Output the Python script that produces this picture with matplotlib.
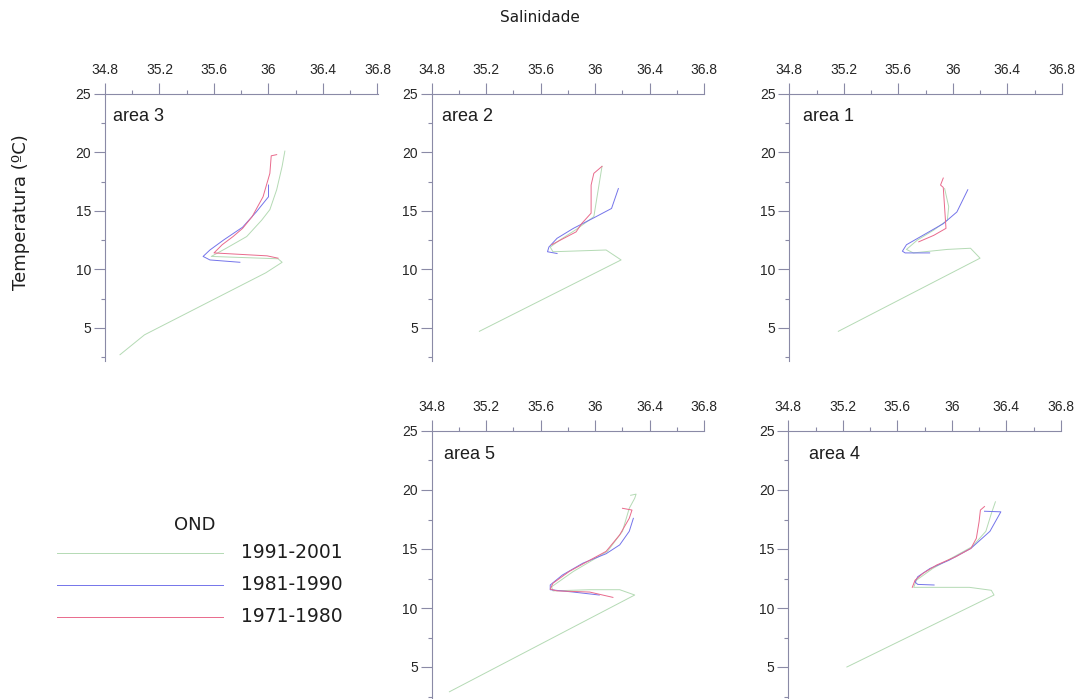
import numpy as np
import matplotlib
matplotlib.use("Agg")
import matplotlib.pyplot as plt
from matplotlib.lines import Line2D
from matplotlib.ticker import MultipleLocator

W, H = 1079, 699

periods = ["1991-2001", "1981-1990", "1971-1980"]
colors = ["#b4dab4", "#7474ea", "#e96a8c"]

# T-S profiles, salinity / temperature (ºC), one set per area
a3_sal_91 = [36.12, 36.10, 36.06, 36.01, 35.95, 35.84, 35.69, 35.58, 36.07, 36.10, 35.98, 35.09, 34.91]
a3_tem_91 = [20.1, 18.8, 16.8, 15.1, 14.2, 12.8, 11.8, 11.1, 10.9, 10.6, 9.7, 4.4, 2.7]
a3_sal_81 = [36.00, 36.00, 35.91, 35.81, 35.67, 35.57, 35.52, 35.57, 35.79]
a3_tem_81 = [17.2, 16.2, 14.9, 13.6, 12.5, 11.65, 11.1, 10.8, 10.6]
a3_sal_71 = [36.06, 36.02, 36.01, 35.96, 35.88, 35.81, 35.74, 35.66, 35.60, 35.99, 36.07]
a3_tem_71 = [19.8, 19.7, 18.2, 16.2, 14.5, 13.5, 12.8, 12.1, 11.4, 11.15, 10.95]

a2_sal_91 = [36.05, 35.99, 35.86, 35.74, 35.67, 35.69, 36.08, 36.19, 35.15]
a2_tem_91 = [18.8, 14.5, 13.4, 12.5, 11.9, 11.5, 11.65, 10.8, 4.7]
a2_sal_81 = [36.17, 36.12, 35.99, 35.84, 35.72, 35.66, 35.65, 35.72]
a2_tem_81 = [16.9, 15.2, 14.4, 13.5, 12.65, 11.9, 11.5, 11.35]
a2_sal_71 = [36.05, 35.99, 35.97, 35.97, 35.90, 35.86, 35.77, 35.68]
a2_tem_71 = [18.8, 18.2, 17.2, 14.8, 13.9, 13.2, 12.65, 12.1]

a1_sal_91 = [35.94, 35.97, 35.96, 35.86, 35.74, 35.66, 35.71, 35.96, 36.13, 36.20, 35.16]
a1_tem_91 = [16.9, 15.35, 14.2, 13.35, 12.5, 11.7, 11.4, 11.7, 11.8, 10.95, 4.7]
a1_sal_81 = [36.11, 36.03, 35.93, 35.78, 35.66, 35.63, 35.65, 35.83]
a1_tem_81 = [16.8, 14.9, 13.9, 12.9, 12.1, 11.55, 11.4, 11.4]
a1_sal_71 = [35.93, 35.91, 35.93, 35.95, 35.86, 35.75]
a1_tem_71 = [17.8, 17.2, 17.0, 13.5, 12.9, 12.35]

a5_sal_91 = [36.26, 36.30, 36.29, 36.25, 36.20, 36.09, 35.84, 35.68, 35.69, 35.96, 36.18, 36.29, 34.93]
a5_tem_91 = [19.55, 19.65, 19.3, 18.45, 16.5, 14.8, 13.1, 11.8, 11.45, 11.55, 11.55, 11.1, 2.9]
a5_sal_81 = [36.28, 36.25, 36.18, 36.08, 35.91, 35.76, 35.67, 35.67, 35.84, 36.03]
a5_tem_81 = [17.6, 16.5, 15.35, 14.6, 13.8, 12.8, 11.95, 11.55, 11.35, 11.1]
a5_sal_71 = [36.20, 36.27, 36.25, 36.18, 36.08, 35.96, 35.81, 35.69, 35.67, 35.72, 35.96, 36.13]
a5_tem_71 = [18.45, 18.3, 17.6, 16.2, 14.8, 14.05, 13.1, 12.1, 11.6, 11.45, 11.35, 10.9]

a4_sal_91 = [36.32, 36.29, 36.25, 36.15, 35.86, 35.74, 35.72, 35.93, 36.13, 36.29, 36.31, 35.23]
a4_tem_91 = [19.0, 18.0, 16.5, 15.2, 13.35, 12.35, 11.75, 11.75, 11.75, 11.5, 11.1, 5.0]
a4_sal_81 = [36.24, 36.36, 36.28, 36.14, 35.98, 35.84, 35.75, 35.73, 35.75, 35.87]
a4_tem_81 = [18.2, 18.15, 16.5, 15.05, 14.05, 13.35, 12.65, 12.2, 12.0, 11.95]
a4_sal_71 = [36.24, 36.21, 36.20, 36.18, 36.14, 36.03, 35.89, 35.79, 35.73, 35.71]
a4_tem_71 = [18.6, 18.3, 17.3, 15.9, 15.05, 14.35, 13.65, 12.95, 12.35, 11.75]

areas = ["area 3", "area 2", "area 1", "area 5", "area 4"]
profiles = [
    [(a3_sal_91, a3_tem_91), (a3_sal_81, a3_tem_81), (a3_sal_71, a3_tem_71)],
    [(a2_sal_91, a2_tem_91), (a2_sal_81, a2_tem_81), (a2_sal_71, a2_tem_71)],
    [(a1_sal_91, a1_tem_91), (a1_sal_81, a1_tem_81), (a1_sal_71, a1_tem_71)],
    [(a5_sal_91, a5_tem_91), (a5_sal_81, a5_tem_81), (a5_sal_71, a5_tem_71)],
    [(a4_sal_91, a4_tem_91), (a4_sal_81, a4_tem_81), (a4_sal_71, a4_tem_71)],
]

# axes boxes in pixels: left, top(y=25), px per degree
boxes = [(105, 93.8, 11.7), (431.7, 93.8, 11.7), (789.3, 93.8, 11.7),
         (431.7, 431.0, 11.8), (788.3, 431.0, 11.8)]
label_dx = [0.03, 0.037, 0.052, 0.046, 0.077]

ymin, ymax = 2.2, 25
axcol = "#8a8aa6"
txtcol = "#262626"

fig = plt.figure(figsize=(W / 100, H / 100), dpi=100)

for i, (left, top, ppu) in enumerate(boxes):
    h = (ymax - ymin) * ppu
    ax = fig.add_axes([left / W, 1 - (top + h) / H, 272.5 / W, h / H])
    for (s, t), c in zip(profiles[i], colors):
        ax.plot(s, t, color=c, lw=0.7)
    ax.set_xlim(34.8, 36.8)
    ax.set_ylim(ymin, ymax)
    ax.xaxis.tick_top()
    ax.xaxis.set_minor_locator(MultipleLocator(0.2))
    ax.yaxis.set_major_locator(MultipleLocator(5))
    ax.yaxis.set_minor_locator(MultipleLocator(2.5))
    ax.set_xticks(np.arange(34.8, 36.81, 0.4))
    ax.set_xticklabels(["34.8", "35.2", "35.6", "36", "36.4", "36.8"])
    for sp in ["bottom", "right"]:
        ax.spines[sp].set_visible(False)
    for sp in ["top", "left"]:
        ax.spines[sp].set_color(axcol)
        ax.spines[sp].set_linewidth(0.8)
    ax.tick_params(which="major", direction="out", length=8, width=0.8,
                   color=axcol, labelcolor=txtcol, labelsize=10, pad=2,
                   labelfontfamily="Liberation Sans")
    ax.tick_params(axis="x", which="major", pad=4)
    ax.tick_params(which="minor", direction="out", length=3, width=0.8, color=axcol)
    ax.patch.set_alpha(0)
    ax.text(label_dx[i], 0.945, areas[i], transform=ax.transAxes, va="top",
            ha="left", fontsize=13, color="#1e1e1e", family="Liberation Sans")

fig.text(540 / W, 1 - 18 / H, "Salinidade", ha="center", va="center",
         fontsize=11, color="#1e1e1e")
fig.text(21 / W, 1 - 212 / H, "Temperatura (ºC)", ha="center", va="center",
         rotation=90, fontsize=13, color="#1e1e1e")

# legend drawn by hand on the left
fig.text(195 / W, 1 - 525 / H, "OND", ha="center", va="center", fontsize=13,
         color="#1e1e1e")
for y, lab, c in zip([553, 585, 617], periods, colors):
    fig.add_artist(Line2D([57 / W, 223 / W], [1 - y / H, 1 - y / H], color=c, lw=0.7))
    fig.text(241 / W, 1 - y / H, lab, ha="left", va="center", fontsize=13.5,
             color="#1e1e1e")

fig.savefig("out.png", dpi=100)
